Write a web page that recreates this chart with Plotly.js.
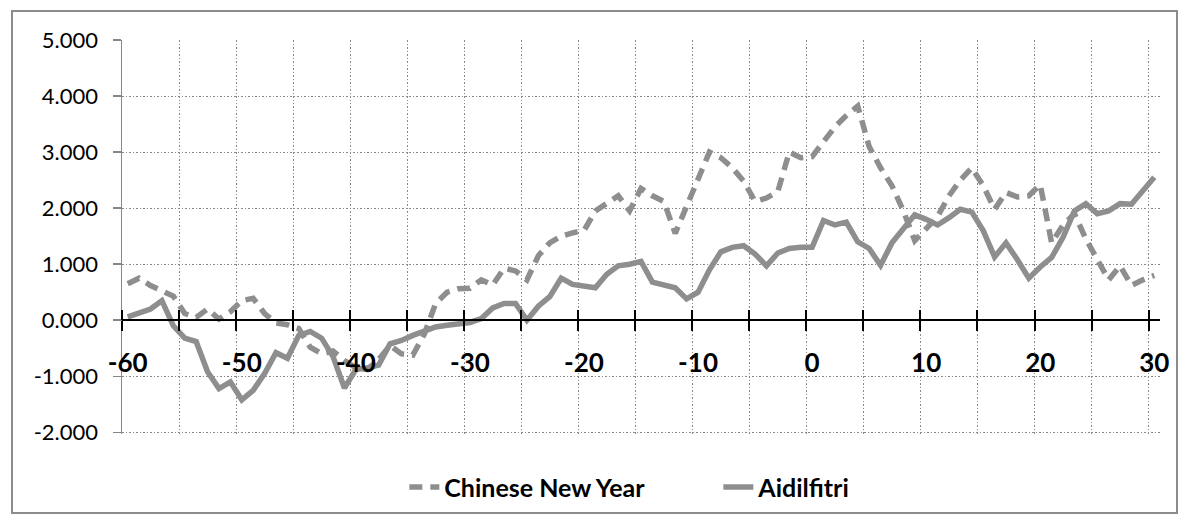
<!DOCTYPE html>
<html>
<head>
<meta charset="utf-8">
<script src="https://cdn.plot.ly/plotly-3.0.1.min.js"></script>
<style>
  html, body { margin: 0; padding: 0; background: #ffffff; }
  #chart { position: absolute; left: 0; top: 0; width: 1187px; height: 523px; }
  #frame { position: absolute; left: 11px; top: 10px; width: 1163px; height: 500px;
           border: 2px solid #8c8c8c; pointer-events: none; }
</style>
</head>
<body>
<div id="chart"></div>
<div id="frame"></div>
<script>
// Days relative to the festival
const days = [
  -60,-59,-58,-57,-56,-55,-54,-53,-52,-51,
  -50,-49,-48,-47,-46,-45,-44,-43,-42,-41,
  -40,-39,-38,-37,-36,-35,-34,-33,-32,-31,
  -30,-29,-28,-27,-26,-25,-24,-23,-22,-21,
  -20,-19,-18,-17,-16,-15,-14,-13,-12,-11,
  -10,-9,-8,-7,-6,-5,-4,-3,-2,-1,
  0,1,2,3,4,5,6,7,8,9,
  10,11,12,13,14,15,16,17,18,19,
  20,21,22,23,24,25,26,27,28,29,
  30
];

const chineseNewYear = [
  0.65, 0.75, 0.62, 0.52, 0.43, 0.12, 0.05, 0.20, 0.02, 0.15,
  0.35, 0.39, 0.12, -0.05, -0.08, -0.15, -0.48, -0.60, -0.55, -0.72,
  -0.85, -0.88, -0.70, -0.45, -0.60, -0.62, -0.25, 0.30, 0.50, 0.56,
  0.57, 0.72, 0.63, 0.93, 0.88, 0.72, 1.15, 1.38, 1.50, 1.56,
  1.60, 1.95, 2.10, 2.22, 1.95, 2.35, 2.22, 2.12, 1.55, 2.05,
  2.50, 3.00, 2.90, 2.72, 2.48, 2.12, 2.18, 2.30, 3.00, 2.90,
  2.92, 3.20, 3.45, 3.65, 3.82, 3.10, 2.72, 2.40, 1.95, 1.42,
  1.62, 1.85, 2.22, 2.50, 2.72, 2.40, 1.98, 2.28, 2.20, 2.22,
  2.42, 1.38, 1.70, 1.90, 1.45, 1.10, 0.72, 0.97, 0.62, 0.72,
  0.80
];

const aidilfitri = [
  0.06, 0.14, 0.20, 0.35, -0.10, -0.32, -0.38, -0.92, -1.22, -1.10,
  -1.42, -1.25, -0.95, -0.58, -0.68, -0.27, -0.20, -0.32, -0.65, -1.21,
  -0.88, -0.85, -0.80, -0.42, -0.36, -0.27, -0.20, -0.12, -0.09, -0.07,
  -0.04, 0.03, 0.22, 0.30, 0.30, 0.00, 0.25, 0.42, 0.75, 0.64,
  0.60, 0.58, 0.82, 0.97, 1.00, 1.05, 0.68, 0.62, 0.58, 0.38,
  0.50, 0.90, 1.22, 1.30, 1.33, 1.18, 0.97, 1.20, 1.28, 1.30,
  1.30, 1.78, 1.70, 1.75, 1.40, 1.28, 0.98, 1.38, 1.65, 1.88,
  1.80, 1.70, 1.83, 1.98, 1.93, 1.60, 1.13, 1.38, 1.08, 0.75,
  0.95, 1.12, 1.48, 1.95, 2.08, 1.90, 1.95, 2.08, 2.07, 2.30,
  2.55
];

const seriesNames = ['Chinese New Year', 'Aidilfitri'];

const xLabelVals = [-60, -50, -40, -30, -20, -10, 0, 10, 20, 30];
const xLabelText = ['-60', '-50', '-40', '-30', '-20', '-10', '0', '10', '20', '30'];

const yTickVals = [-2, -1, 0, 1, 2, 3, 4, 5];
const yTickText = ['-2.000', '-1.000', '0.000', '1.000', '2.000', '3.000', '4.000', '5.000'];

// Category boundaries every five days carry the tick marks and vertical grid
const xRange = [days[0] - 0.5, days[days.length - 1] + 0.5];
const boundaryStep = 5;

// A hair of room below -2 keeps the bottom grid line visible
const yRange = [yTickVals[0] - 0.03, yTickVals[yTickVals.length - 1]];
const zeroPos = (0 - yRange[0]) / (yRange[1] - yRange[0]);

const lineColor = '#8e8e8e';
const gridColor = '#8a8a8a';
const gridDash = '1.5px,2px';
const fontFamily = 'Lato, "Open Sans", "DejaVu Sans", sans-serif';

const traces = [
  {
    x: days, y: chineseNewYear, name: seriesNames[0],
    type: 'scatter', mode: 'lines', xaxis: 'x', yaxis: 'y',
    line: { color: lineColor, width: 5.5, dash: '13px,8px' }
  },
  {
    x: days, y: aidilfitri, name: seriesNames[1],
    type: 'scatter', mode: 'lines', xaxis: 'x2', yaxis: 'y',
    line: { color: lineColor, width: 5.5 }
  }
];

const layout = {
  width: 1187, height: 523,
  margin: { l: 122, r: 27, t: 40, b: 89 },
  paper_bgcolor: '#ffffff', plot_bgcolor: '#ffffff',
  font: { family: fontFamily, color: '#000000' },
  showlegend: true,
  legend: {
    orientation: 'h', x: 0.272, xanchor: 'left', y: -0.135, yanchor: 'middle',
    font: { size: 25, weight: 'bold', color: '#000000' },
    entrywidth: 269, entrywidthmode: 'pixels',
    bgcolor: 'rgba(0,0,0,0)'
  },
  // Day labels, with the upper half of the crossing tick marks and the dotted grid
  xaxis: {
    range: xRange, anchor: 'free', position: zeroPos,
    tickmode: 'array', tickvals: xLabelVals, ticktext: xLabelText,
    ticks: '', showgrid: false, showline: false, zeroline: false,
    tickfont: { size: 26, weight: 'bold', color: '#000000' },
    ticklabelstandoff: 25,
    minor: {
      tickmode: 'linear', tick0: xRange[0], dtick: boundaryStep,
      ticks: 'inside', ticklen: 10, tickwidth: 2, tickcolor: '#000000',
      showgrid: true, gridcolor: gridColor, gridwidth: 1, griddash: gridDash
    }
  },
  // Black axis line at zero with the lower half of the tick marks
  xaxis2: {
    overlaying: 'x', range: xRange, anchor: 'free', position: zeroPos,
    tickmode: 'linear', tick0: xRange[0], dtick: boundaryStep,
    ticks: 'outside', ticklen: 10, tickwidth: 2, tickcolor: '#000000',
    showticklabels: false, showgrid: false,
    showline: true, linecolor: '#000000', linewidth: 2, zeroline: false
  },
  yaxis: {
    range: yRange, tickmode: 'array', tickvals: yTickVals, ticktext: yTickText,
    ticks: 'outside', ticklen: 8, tickwidth: 1.5, tickcolor: '#868686',
    showline: true, linecolor: '#868686', linewidth: 1.5,
    showgrid: true, gridcolor: gridColor, gridwidth: 1, griddash: gridDash,
    zeroline: false,
    tickfont: { size: 22, color: '#000000' },
    ticklabelstandoff: 10
  }
};

Plotly.newPlot('chart', traces, layout, { staticPlot: true, displayModeBar: false });
</script>
</body>
</html>
